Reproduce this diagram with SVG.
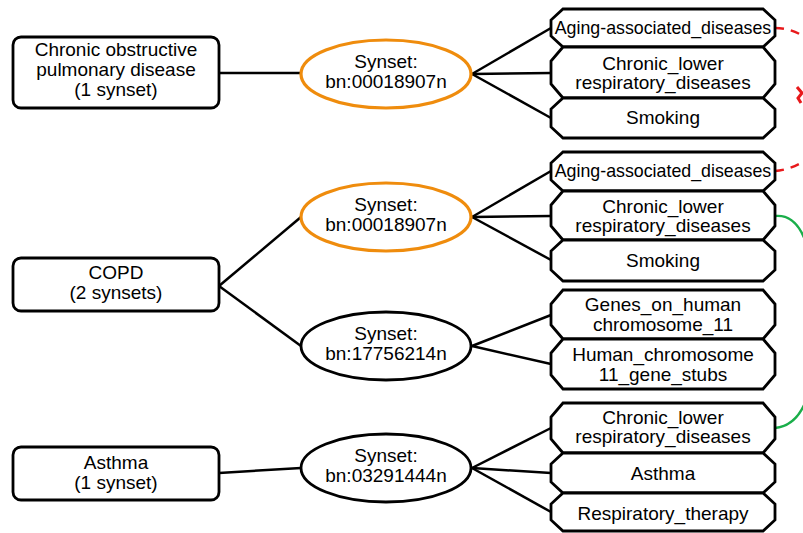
<svg xmlns="http://www.w3.org/2000/svg" width="803" height="533" viewBox="0 0 803 533">
<style>
text{font-family:"Liberation Sans",Arial,sans-serif;font-size:19px;fill:#000;text-anchor:middle}
.sm{font-size:17.8px}
.box{fill:#fff;stroke:#000;stroke-width:2.8}
.syn{fill:#fff;stroke:#000;stroke-width:2.8}
.hl{stroke:#ef8c0d;stroke-width:3.2}
.oct{fill:#fff;stroke:#000;stroke-width:2.8;stroke-linejoin:miter}
.e{fill:none;stroke:#000;stroke-width:2.5}
.red{fill:none;stroke:#e8191b;stroke-width:2.4;stroke-dasharray:9 7}
.grn{fill:none;stroke:#1aae4a;stroke-width:2.4}
</style>
<rect width="803" height="533" fill="#fff"/>
<g id="connectors">
<line class="e" x1="219" y1="73" x2="301" y2="73"/>
<line class="e" x1="219" y1="286" x2="301" y2="217"/>
<line class="e" x1="219" y1="286" x2="301" y2="346"/>
<line class="e" x1="219" y1="473" x2="301" y2="468"/>
<line class="e" x1="472" y1="74" x2="551" y2="28"/>
<line class="e" x1="472" y1="74" x2="551" y2="73"/>
<line class="e" x1="472" y1="74" x2="551" y2="118"/>
<line class="e" x1="472" y1="217" x2="551" y2="171"/>
<line class="e" x1="472" y1="217" x2="551" y2="216"/>
<line class="e" x1="472" y1="217" x2="551" y2="260"/>
<line class="e" x1="472" y1="346" x2="551" y2="315"/>
<line class="e" x1="472" y1="346" x2="551" y2="364"/>
<line class="e" x1="472" y1="468" x2="551" y2="428"/>
<line class="e" x1="472" y1="468" x2="551" y2="473"/>
<line class="e" x1="472" y1="468" x2="551" y2="512"/>
<path class="red" d="M775,28 Q792,28 806,38"/>
<path class="red" d="M775,171 Q790,170 806,160"/>
<path d="M797,87 L802,93 L798,98 L801,103" fill="none" stroke="#e8191b" stroke-width="3"/>
<path class="grn" d="M775,216 Q795,214 805,240"/>
<path class="grn" d="M775,428 Q795,426 805,403"/>
</g>
<g id="n-copd-full">
<rect class="box" x="13" y="37" width="206" height="71" rx="8"/>
<text x="116" y="56">Chronic obstructive</text>
<text x="116" y="76">pulmonary disease</text>
<text x="116" y="96">(1 synset)</text>
</g>
<g id="n-copd">
<rect class="box" x="13" y="258" width="206" height="53" rx="8"/>
<text x="116" y="279">COPD</text>
<text x="116" y="299">(2 synsets)</text>
</g>
<g id="n-asthma">
<rect class="box" x="13" y="447" width="206" height="53" rx="8"/>
<text x="116" y="469">Asthma</text>
<text x="116" y="489">(1 synset)</text>
</g>
<g id="s1">
<ellipse class="syn hl" cx="386" cy="74" rx="85" ry="34"/>
<text x="386" y="68">Synset:</text>
<text x="386" y="88">bn:00018907n</text>
</g>
<g id="s2">
<ellipse class="syn hl" cx="386" cy="217" rx="85" ry="34"/>
<text x="386" y="211">Synset:</text>
<text x="386" y="231">bn:00018907n</text>
</g>
<g id="s3">
<ellipse class="syn" cx="386" cy="346" rx="85" ry="34"/>
<text x="386" y="340">Synset:</text>
<text x="386" y="360">bn:17756214n</text>
</g>
<g id="s4">
<ellipse class="syn" cx="386" cy="468" rx="85" ry="34"/>
<text x="386" y="462">Synset:</text>
<text x="386" y="482">bn:03291444n</text>
</g>
<g id="c-aging1">
<polygon class="oct" points="563,9 763,9 775,20 775,36 763,47 563,47 551,36 551,20"/>
<text class="sm" x="663" y="34">Aging-associated_diseases</text>
</g>
<g id="c-chronic1">
<polygon class="oct" points="563,47 763,47 775,61 775,84 763,98 563,98 551,84 551,61"/>
<text x="663" y="70">Chronic_lower</text>
<text x="663" y="89">respiratory_diseases</text>
</g>
<g id="c-smoking1">
<polygon class="oct" points="563,98 763,98 775,109 775,127 763,138 563,138 551,127 551,109"/>
<text x="663" y="124">Smoking</text>
</g>
<g id="c-aging2">
<polygon class="oct" points="563,152 763,152 775,163 775,180 763,191 563,191 551,180 551,163"/>
<text class="sm" x="663" y="177">Aging-associated_diseases</text>
</g>
<g id="c-chronic2">
<polygon class="oct" points="563,191 763,191 775,205 775,226 763,240 563,240 551,226 551,205"/>
<text x="663" y="213">Chronic_lower</text>
<text x="663" y="232">respiratory_diseases</text>
</g>
<g id="c-smoking2">
<polygon class="oct" points="563,240 763,240 775,251 775,270 763,281 563,281 551,270 551,251"/>
<text x="663" y="267">Smoking</text>
</g>
<g id="c-genes">
<polygon class="oct" points="563,290 763,290 775,304 775,325 763,339 563,339 551,325 551,304"/>
<text x="663" y="311">Genes_on_human</text>
<text x="663" y="331">chromosome_11</text>
</g>
<g id="c-human">
<polygon class="oct" points="563,339 763,339 775,353 775,375 763,389 563,389 551,375 551,353"/>
<text x="663" y="361">Human_chromosome</text>
<text x="663" y="381">11_gene_stubs</text>
</g>
<g id="c-chronic3">
<polygon class="oct" points="563,403 763,403 775,417 775,439 763,453 563,453 551,439 551,417"/>
<text x="663" y="424">Chronic_lower</text>
<text x="663" y="443">respiratory_diseases</text>
</g>
<g id="c-asthma">
<polygon class="oct" points="563,453 763,453 775,464 775,482 763,493 563,493 551,482 551,464"/>
<text x="663" y="480">Asthma</text>
</g>
<g id="c-resp">
<polygon class="oct" points="563,493 763,493 775,504 775,520 763,531 563,531 551,520 551,504"/>
<text x="663" y="520">Respiratory_therapy</text>
</g>
</svg>
